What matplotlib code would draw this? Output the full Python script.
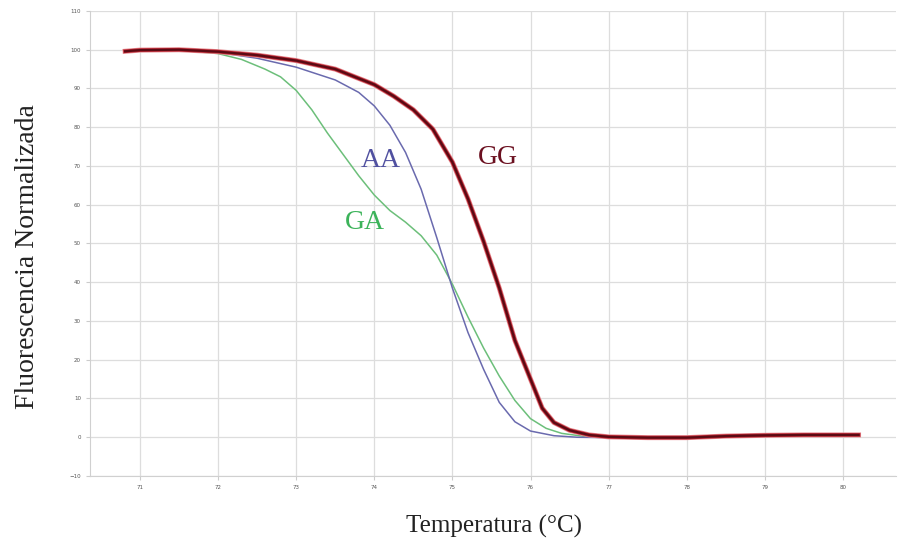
import matplotlib.pyplot as plt

# Melting curves
gg_temp = [70.81, 71.0, 71.5, 72.0, 72.5, 73.0, 73.5, 74.0, 74.25, 74.5, 74.75, 75.0,
           75.2, 75.4, 75.6, 75.8, 76.0, 76.15, 76.3, 76.5, 76.75, 77.0, 77.5, 78.0,
           78.5, 79.0, 79.5, 80.2]
gg_fluo = [99.6, 99.9, 100.0, 99.5, 98.6, 97.2, 95.0, 91.0, 88.0, 84.5, 79.5, 71.0,
           61.5, 50.5, 38.5, 25.0, 15.0, 7.5, 3.8, 1.8, 0.6, 0.1, -0.1, -0.1,
           0.3, 0.5, 0.6, 0.6]

aa_temp = [70.81, 71.0, 71.5, 72.0, 72.5, 73.0, 73.5, 73.8, 74.0, 74.2, 74.4, 74.6,
           74.8, 75.0, 75.2, 75.4, 75.6, 75.8, 76.0, 76.3, 76.6, 77.0]
aa_fluo = [99.5, 99.8, 99.9, 99.3, 97.8, 95.5, 92.2, 89.0, 85.5, 80.5, 73.5, 64.0,
           51.5, 38.5, 27.0, 17.5, 9.0, 4.0, 1.6, 0.4, 0.0, -0.1]

ga_temp = [70.81, 71.0, 71.5, 72.0, 72.3, 72.6, 72.8, 73.0, 73.2, 73.4, 73.6, 73.8,
           74.0, 74.2, 74.4, 74.6, 74.8, 75.0, 75.2, 75.4, 75.6, 75.8, 76.0, 76.2,
           76.4, 76.7, 77.0]
ga_fluo = [99.5, 99.8, 99.9, 99.0, 97.5, 95.0, 93.0, 89.5, 84.5, 78.5, 73.0, 67.5,
           62.5, 58.5, 55.5, 52.0, 47.0, 39.5, 31.0, 23.0, 15.8, 9.5, 4.8, 2.3,
           1.0, 0.2, 0.0]

x_ticks = list(range(71, 81))
y_ticks = list(range(-10, 111, 10))

fig = plt.figure(figsize=(8.99, 5.46), dpi=100)
ax = fig.add_axes([0.1001, 0.1282, 0.8966, 0.8517])

ax.plot(ga_temp, ga_fluo, color="#6cbf7a", lw=1.1, zorder=3)
ax.plot(aa_temp, aa_fluo, color="#6a6aae", lw=1.1, zorder=3)
# GG: several replicates, pink halo with dark core
ax.plot(gg_temp, gg_fluo, color="#e58a90", lw=3.6, zorder=4)
ax.plot(gg_temp, gg_fluo, color="#b5202c", lw=2.6, zorder=4)
ax.plot(gg_temp, gg_fluo, color="#5a0a14", lw=1.6, zorder=5)

label_font = {"family": "Liberation Serif", "size": 20}
ax.text(74.08, 71.4, "AA", color="#5050a0", ha="center", va="center", fontdict=label_font)
ax.text(73.88, 55.4, "GA", color="#3cb35a", ha="center", va="center", fontdict=label_font)
ax.text(75.58, 72.2, "GG", color="#6b1020", ha="center", va="center", fontdict=label_font)

ax.set_xlim(70.36, 80.68)
ax.set_ylim(-10, 110)
ax.set_xticks(x_ticks)
ax.set_yticks(y_ticks)
ax.tick_params(labelsize=4, colors="#555555", length=3, color="#cccccc")
ax.grid(True, color="#dddddd", lw=0.9)
for s in ["top", "right"]:
    ax.spines[s].set_visible(False)
for s in ["left", "bottom"]:
    ax.spines[s].set_color("#d0d0d0")

fig.text(0.031, 0.53, "Fluorescencia Normalizada", rotation=90, ha="center", va="center",
         family="Liberation Serif", size=20, color="#222222")
fig.text(0.55, 0.035, "Temperatura (°C)", ha="center", va="center",
         family="Liberation Serif", size=18, color="#222222")

fig.savefig("out.png", dpi=100)
